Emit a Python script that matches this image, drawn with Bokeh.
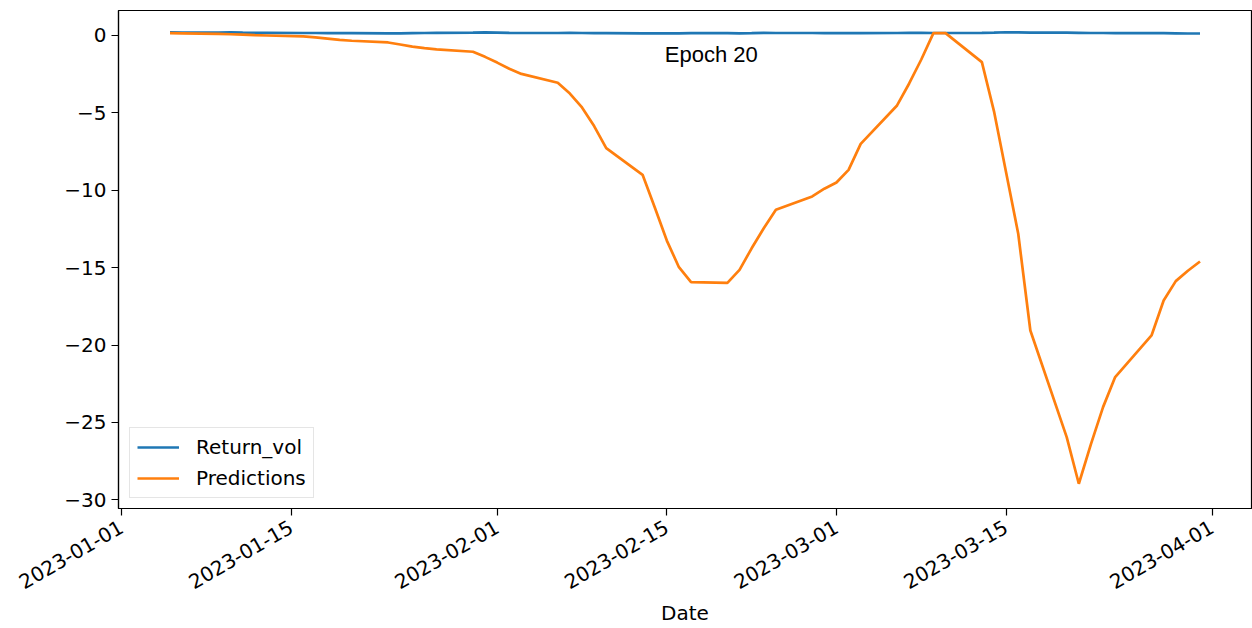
import math
import pandas as pd
from bokeh.plotting import figure
from bokeh.models import Range1d, FixedTicker, Label
from bokeh.embed import file_html
from bokeh.resources import INLINE

# ---------------- data ----------------
dates = [
    "2023-01-05", "2023-01-06",
    "2023-01-09", "2023-01-10", "2023-01-11", "2023-01-12", "2023-01-13",
    "2023-01-16", "2023-01-17", "2023-01-18", "2023-01-19", "2023-01-20",
    "2023-01-23", "2023-01-24", "2023-01-25", "2023-01-26", "2023-01-27",
    "2023-01-30", "2023-01-31", "2023-02-01", "2023-02-02", "2023-02-03",
    "2023-02-06", "2023-02-07", "2023-02-08", "2023-02-09", "2023-02-10",
    "2023-02-13", "2023-02-14", "2023-02-15", "2023-02-16", "2023-02-17",
    "2023-02-20", "2023-02-21", "2023-02-22", "2023-02-23", "2023-02-24",
    "2023-02-27", "2023-02-28", "2023-03-01", "2023-03-02", "2023-03-03",
    "2023-03-06", "2023-03-07", "2023-03-08", "2023-03-09", "2023-03-10",
    "2023-03-13", "2023-03-14", "2023-03-15", "2023-03-16", "2023-03-17",
    "2023-03-20", "2023-03-21", "2023-03-22", "2023-03-23", "2023-03-24",
    "2023-03-27", "2023-03-28", "2023-03-29", "2023-03-30", "2023-03-31",
]

return_vol = [
    0.20, 0.19,
    0.19, 0.20, 0.18, 0.17, 0.17,
    0.16, 0.16, 0.15, 0.15, 0.15,
    0.14, 0.14, 0.15, 0.16, 0.17,
    0.19, 0.20, 0.19, 0.17, 0.16,
    0.16, 0.17, 0.16, 0.15, 0.15,
    0.14, 0.14, 0.14, 0.14, 0.15,
    0.15, 0.14, 0.15, 0.17, 0.16,
    0.16, 0.15, 0.15, 0.15, 0.15,
    0.16, 0.17, 0.17, 0.16, 0.16,
    0.17, 0.18, 0.21, 0.20, 0.19,
    0.18, 0.17, 0.16, 0.16, 0.15,
    0.15, 0.15, 0.14, 0.13, 0.13,
]

predictions = [
    0.15, 0.14,
    0.10, 0.08, 0.05, 0.02, 0.00,
    -0.06, -0.12, -0.20, -0.28, -0.34,
    -0.45, -0.58, -0.72, -0.82, -0.90,
    -1.05, -1.38, -1.75, -2.15, -2.48,
    -3.05, -3.75, -4.65, -5.85, -7.28,
    -9.00, -11.10, -13.25, -14.97, -15.93,
    -15.98, -15.14, -13.75, -12.45, -11.26,
    -10.40, -9.90, -9.50, -8.68, -7.00,
    -4.52, -3.10, -1.55, 0.15, 0.15,
    -1.72, -4.90, -8.85, -12.81, -19.06,
    -25.95, -28.96, -26.40, -24.01, -22.07,
    -19.38, -17.12, -15.87, -15.20, -14.60,
]

x_tick_labels = ["2023-01-01", "2023-01-15", "2023-02-01", "2023-02-15",
                 "2023-03-01", "2023-03-15", "2023-04-01"]
y_ticks = [0, -5, -10, -15, -20, -25, -30]
y_tick_labels = ["0", "\u22125", "\u221210", "\u221215", "\u221220", "\u221225", "\u221230"]

annotation_text = "Epoch 20"
annotation_date = "2023-02-18 16:00"
annotation_y = -1.2

x_start = "2022-12-31 18:00"
x_end = "2023-04-04 06:00"
y_start, y_end = -30.56, 1.615


def to_ms(s):
    return pd.Timestamp(s).timestamp() * 1000.0


x = pd.to_datetime(dates)

p = figure(width=1252, height=628, x_axis_type="datetime",
           output_backend="svg", toolbar_location=None,
           x_range=Range1d(to_ms(x_start), to_ms(x_end)),
           y_range=Range1d(y_start, y_end),
           min_border_left=118, min_border_right=1, min_border_top=10,
           min_border_bottom=120)

p.background_fill_color = "white"
p.border_fill_color = "white"
p.xgrid.visible = False
p.ygrid.visible = False
p.outline_line_color = "black"
p.outline_line_width = 1.2
p.outline_line_alpha = 1.0

p.line(x, return_vol, color="#1f77b4", line_width=2.7, legend_label="Return_vol")
p.line(x, predictions, color="#ff7f0e", line_width=2.7, legend_label="Predictions")

# axes
x_ticks_ms = [to_ms(s) for s in x_tick_labels]
p.xaxis.ticker = FixedTicker(ticks=x_ticks_ms)
p.xaxis.major_label_overrides = {t: l for t, l in zip(x_ticks_ms, x_tick_labels)}
p.xaxis.major_label_orientation = math.pi / 6
p.yaxis.ticker = FixedTicker(ticks=y_ticks)
p.yaxis.major_label_overrides = {t: l for t, l in zip(y_ticks, y_tick_labels)}

for ax in (p.xaxis, p.yaxis):
    ax.major_label_text_font = "DejaVu Sans"
    ax.major_label_text_font_size = "20px"
    ax.major_label_text_color = "black"
    ax.axis_line_color = "black"
    ax.axis_line_width = 1.2
    ax.major_tick_line_color = "black"
    ax.major_tick_line_width = 1.2
    ax.major_tick_out = 7
    ax.major_tick_in = 0
    ax.minor_tick_out = 0
    ax.minor_tick_in = 0
p.yaxis.major_label_standoff = 5
p.xaxis.major_label_standoff = 10

p.xaxis.axis_label = "Date"
p.xaxis.axis_label_text_font = "DejaVu Sans"
p.xaxis.axis_label_text_font_size = "20px"
p.xaxis.axis_label_text_font_style = "normal"
p.xaxis.axis_label_text_color = "black"
p.xaxis.axis_label_standoff = 2

# annotation
p.add_layout(Label(x=to_ms(annotation_date), y=annotation_y, text=annotation_text,
                   text_align="center", text_baseline="middle",
                   text_font="Liberation Sans", text_font_size="22px",
                   text_color="black"))

# legend
lg = p.legend[0]
lg.location = (11, 10)
lg.margin = 0
lg.padding = 7
lg.spacing = 7
lg.glyph_width = 42
lg.glyph_height = 24
lg.label_height = 24
lg.label_standoff = 17
lg.label_text_font = "DejaVu Sans"
lg.label_text_font_size = "20px"
lg.label_text_color = "black"
lg.border_line_color = "#cccccc"
lg.border_line_width = 1
lg.background_fill_alpha = 0.8

open("out.html", "w").write(file_html(p, INLINE))
